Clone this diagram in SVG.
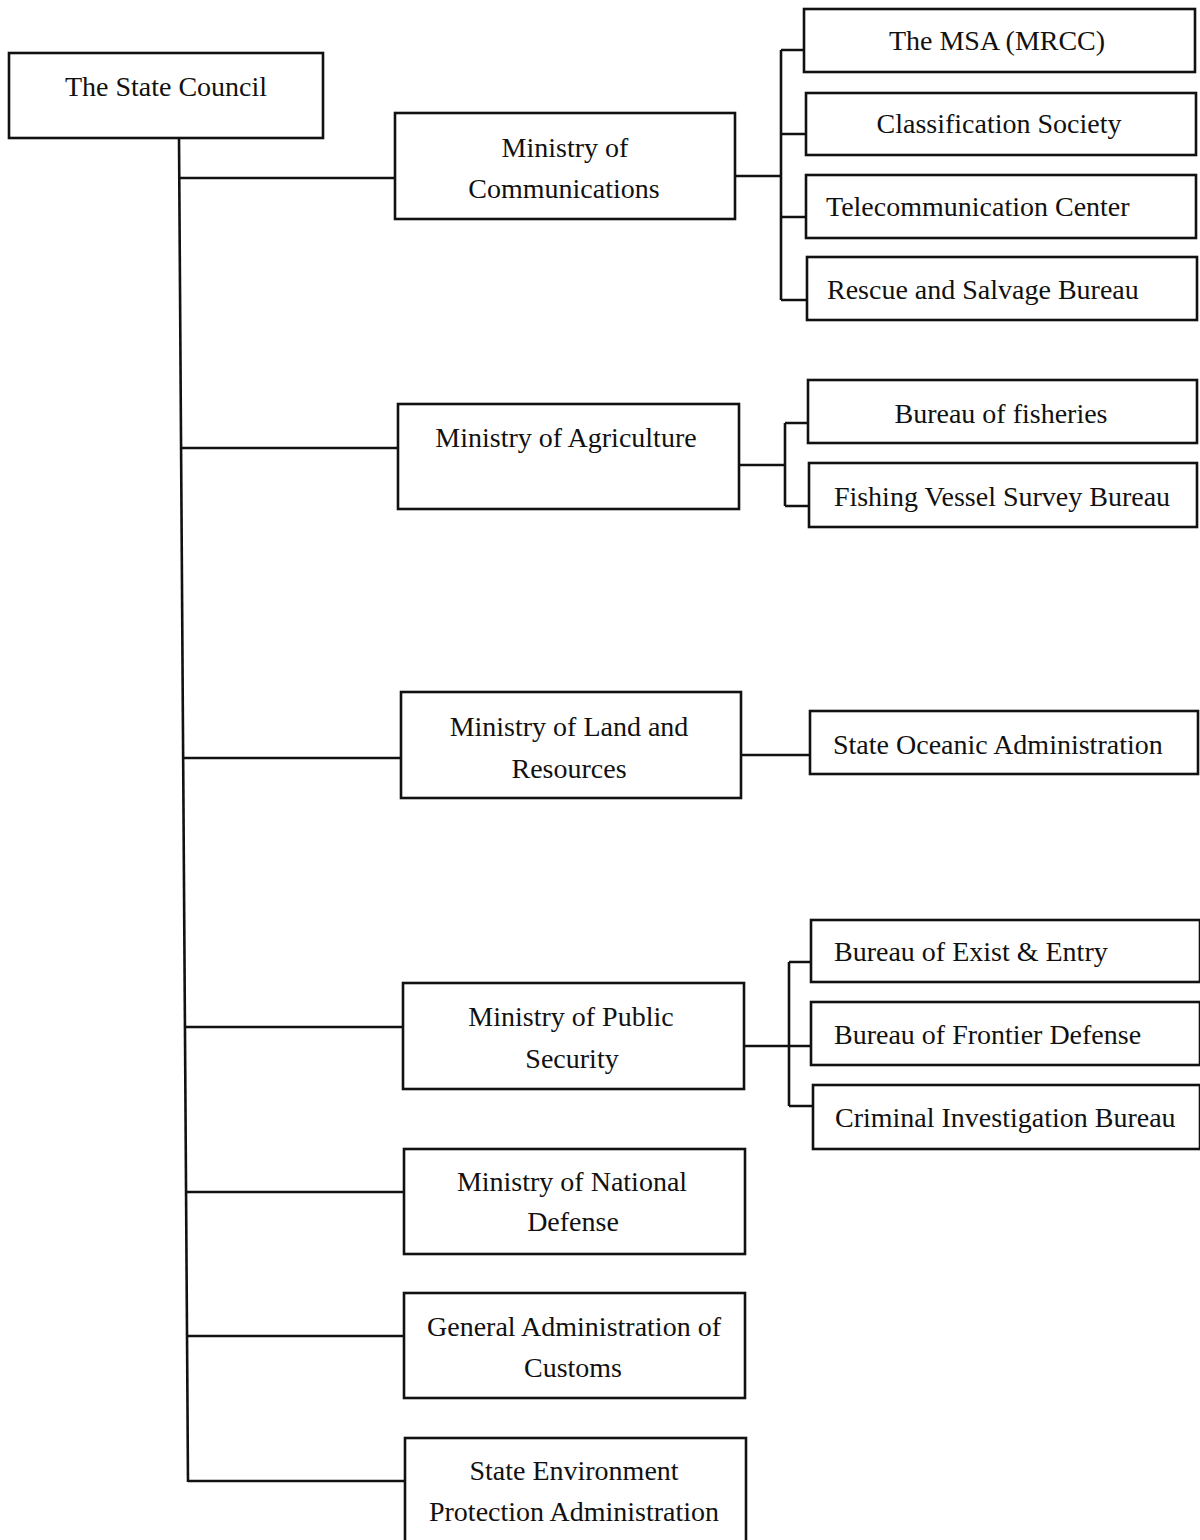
<svg xmlns="http://www.w3.org/2000/svg" width="1200" height="1540" viewBox="0 0 1200 1540">
<style>
.box{fill:#fff;stroke:#111;stroke-width:2.6}
.ln{stroke:#111;stroke-width:2.6;fill:none}
text{font-family:"Liberation Serif","Times New Roman",serif;font-size:28px;fill:#111}
.c{text-anchor:middle}
</style>
<rect width="1200" height="1540" fill="#fff"/>
<g id="connectors">
<path class="ln" d="M179 138 L188 1482"/>
<path class="ln" d="M179 178 H395"/>
<path class="ln" d="M181 448 H398"/>
<path class="ln" d="M184 758 H401"/>
<path class="ln" d="M186 1027 H403"/>
<path class="ln" d="M187 1192 H404"/>
<path class="ln" d="M188 1336 H405"/>
<path class="ln" d="M188 1481 H405"/>
<path class="ln" d="M735 176 H781 M781 50 V300 M781 50 H804 M781 134 H806 M781 217 H806 M781 300 H807"/>
<path class="ln" d="M739 465 H785 M785 423 V506 M785 423 H808 M785 506 H809"/>
<path class="ln" d="M741 755 H810"/>
<path class="ln" d="M744 1046 H811 M789 962 V1106 M789 962 H811 M789 1106 H813"/>
</g>
<g id="state-council"><rect class="box" x="9" y="53" width="314" height="85"/><text class="c" x="166" y="96">The State Council</text></g>
<g id="ministry-communications"><rect class="box" x="395" y="113" width="340" height="106"/><text class="c" x="565" y="157">Ministry of</text><text class="c" x="564" y="198">Communications</text></g>
<g id="msa"><rect class="box" x="804" y="9" width="391" height="63"/><text class="c" x="997" y="50">The MSA (MRCC)</text></g>
<g id="classification"><rect class="box" x="806" y="93" width="390" height="62"/><text class="c" x="999" y="133">Classification Society</text></g>
<g id="telecom"><rect class="box" x="806" y="175" width="390" height="63"/><text x="826" y="216">Telecommunication Center</text></g>
<g id="rescue"><rect class="box" x="807" y="257" width="390" height="63"/><text x="827" y="299">Rescue and Salvage Bureau</text></g>
<g id="ministry-agriculture"><rect class="box" x="398" y="404" width="341" height="105"/><text class="c" x="566" y="447">Ministry of Agriculture</text></g>
<g id="fisheries"><rect class="box" x="808" y="380" width="389" height="63"/><text class="c" x="1001" y="423">Bureau of fisheries</text></g>
<g id="fishing-vessel"><rect class="box" x="809" y="463" width="388" height="64"/><text class="c" x="1002" y="506">Fishing Vessel Survey Bureau</text></g>
<g id="ministry-land"><rect class="box" x="401" y="692" width="340" height="106"/><text class="c" x="569" y="736">Ministry of Land and</text><text class="c" x="569" y="778">Resources</text></g>
<g id="oceanic"><rect class="box" x="810" y="711" width="388" height="63"/><text x="833" y="754">State Oceanic Administration</text></g>
<g id="ministry-public-security"><rect class="box" x="403" y="983" width="341" height="106"/><text class="c" x="571" y="1026">Ministry of Public</text><text class="c" x="572" y="1068">Security</text></g>
<g id="exit-entry"><rect class="box" x="811" y="920" width="389" height="62"/><text x="834" y="961">Bureau of Exist &amp; Entry</text></g>
<g id="frontier"><rect class="box" x="811" y="1002" width="389" height="63"/><text x="834" y="1044">Bureau of Frontier Defense</text></g>
<g id="criminal"><rect class="box" x="813" y="1085" width="387" height="64"/><text x="835" y="1127">Criminal Investigation Bureau</text></g>
<g id="ministry-defense"><rect class="box" x="404" y="1149" width="341" height="105"/><text class="c" x="572" y="1191">Ministry of National</text><text class="c" x="573" y="1231">Defense</text></g>
<g id="customs"><rect class="box" x="404" y="1293" width="341" height="105"/><text class="c" x="574" y="1336">General Administration of</text><text class="c" x="573" y="1377">Customs</text></g>
<g id="environment"><rect class="box" x="405" y="1438" width="341" height="104"/><text class="c" x="574" y="1480">State Environment</text><text class="c" x="574" y="1521">Protection Administration</text></g>
</svg>
